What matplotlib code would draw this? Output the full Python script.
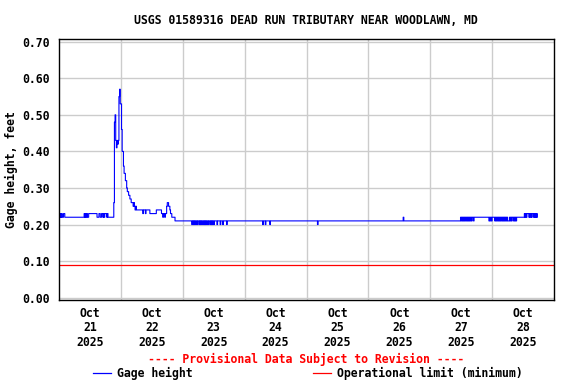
import numpy as np
import pandas as pd
import matplotlib
matplotlib.use("Agg")
import matplotlib.pyplot as plt
from matplotlib.lines import Line2D

plt.rcParams["font.family"] = ["DejaVu Sans Mono"]
plt.rcParams["font.weight"] = "bold"
plt.rcParams["axes.labelweight"] = "bold"
FS = 8.3

title = "USGS 01589316 DEAD RUN TRIBUTARY NEAR WOODLAWN, MD"
start = pd.Timestamp("2025-10-21 00:00")
day_labels = ["Oct\n21\n2025", "Oct\n22\n2025", "Oct\n23\n2025", "Oct\n24\n2025",
              "Oct\n25\n2025", "Oct\n26\n2025", "Oct\n27\n2025", "Oct\n28\n2025"]

# gage height change points (hours after Oct 21 00:00, feet)
step_hours = [0.0, 0.4, 0.6, 0.9, 1.1, 1.6, 2.2,
              9.75, 10.0, 10.25, 10.5, 10.75, 11.0, 11.5,
              14.75, 15.5, 16.0, 16.5, 17.0, 17.25, 17.5, 17.75, 18.5, 18.75, 19.0,
              21.25, 21.5, 21.75, 22.0, 22.25, 22.5, 22.75, 23.0, 23.25, 23.5, 23.75,
              24.25, 24.5, 25.0, 25.25, 25.75, 26.25, 26.5, 27.0, 27.5, 28.0, 28.75,
              29.0, 29.25, 29.5, 29.75, 30.0, 32.5, 32.75, 33.5, 33.75, 35.25, 37.75,
              39.75, 40.25, 40.5, 41.0, 41.25, 41.75, 42.0, 42.5, 43.0, 43.25, 43.75,
              45.0, 155.75]
step_gage = [0.22, 0.23, 0.22, 0.23, 0.22, 0.23, 0.22,
             0.23, 0.22, 0.23, 0.22, 0.23, 0.22, 0.23,
             0.22, 0.23, 0.22, 0.23, 0.22, 0.23, 0.22, 0.23, 0.22, 0.23, 0.22,
             0.26, 0.48, 0.50, 0.43, 0.41, 0.43, 0.42, 0.43, 0.55, 0.57, 0.53,
             0.46, 0.40, 0.36, 0.34, 0.32, 0.30, 0.29, 0.28, 0.27, 0.26, 0.25,
             0.26, 0.25, 0.24, 0.25, 0.24, 0.23, 0.24, 0.23, 0.24, 0.23, 0.24,
             0.23, 0.22, 0.23, 0.22, 0.23, 0.25, 0.26, 0.25, 0.24, 0.23, 0.22,
             0.21, 0.22]

# single 15-minute readings that differ from the surrounding level
blip_hours = [51.5, 52.0, 52.5, 53.0, 53.5, 54.25, 54.75, 55.25, 55.75, 56.25,
              56.75, 57.25, 57.75, 58.5, 59.0, 59.5, 60.0, 61.25, 62.5, 63.5,
              65.0, 79.0, 80.0, 81.75, 100.25, 133.5, 160.0, 160.75]
blip_gage = [0.20] * 25 + [0.22, 0.21, 0.21]

# stretches where the reading flips between two levels (15-minute samples)
band1_start = 155.75
band1 = [0.22, 0.21, 0.22, 0.21, 0.22, 0.21, 0.22, 0.21,
         0.22, 0.21, 0.22, 0.21, 0.22, 0.21, 0.22, 0.21]
band2_start = 166.75
band2 = [0.21, 0.22, 0.21, 0.22, 0.21, 0.22, 0.22, 0.22, 0.22,
         0.21, 0.22, 0.21, 0.22, 0.21, 0.22, 0.21, 0.22, 0.21, 0.22,
         0.21, 0.22, 0.21, 0.22, 0.21, 0.22, 0.21, 0.22, 0.21, 0.22,
         0.21, 0.21, 0.21, 0.22, 0.21, 0.22, 0.21, 0.22, 0.22,
         0.21, 0.22, 0.21, 0.22, 0.21]
band3_start = 180.5
band3 = [0.23, 0.22, 0.23, 0.22, 0.23, 0.23, 0.23, 0.22, 0.23, 0.22,
         0.23, 0.22, 0.23, 0.23, 0.22, 0.23, 0.22, 0.23, 0.22, 0.23]
end_hour = 185.5

op_limit = 0.09

# 15-minute record
hrs = np.arange(0, end_hour + 0.01, 0.25)
idx = np.searchsorted(step_hours, hrs + 1e-6, side="right") - 1
gage = np.array(step_gage)[idx]
for h, v in zip(blip_hours, blip_gage):
    gage[np.isclose(hrs, h)] = v
for s, b in [(band1_start, band1), (band2_start, band2), (band3_start, band3)]:
    i0 = int(round(s / 0.25))
    gage[i0:i0 + len(b)] = b
times = start + pd.to_timedelta(hrs, unit="h")

fig = plt.figure(figsize=(5.76, 3.84), dpi=100)
ax = fig.add_axes([59 / 576, 1 - 300 / 384, (554 - 59) / 576, (300 - 39) / 384])

ax.plot(times, gage, color="blue", lw=0.8, drawstyle="steps-post")
ax.axhline(op_limit, color="red", lw=0.9)

ax.set_xlim(start, start + pd.Timedelta(days=8))
ax.set_ylim(-0.0063, 0.7074)
ax.set_yticks(np.arange(0, 0.71, 0.1))
ax.set_yticklabels(["%.2f" % v for v in np.arange(0, 0.71, 0.1)], fontsize=FS)

noons = [start + pd.Timedelta(hours=12 + 24 * i) for i in range(8)]
mids = [start + pd.Timedelta(days=i) for i in range(1, 8)]
ax.set_xticks(noons)
ax.set_xticklabels(day_labels, fontsize=FS, linespacing=1.15)
ax.set_xticks(mids, minor=True)
ax.tick_params(axis="both", which="both", length=0)
ax.tick_params(axis="x", pad=5)
ax.tick_params(axis="y", pad=7)
ax.grid(False)
ax.grid(True, which="minor", axis="x", color="#cccccc", lw=1.0)
ax.grid(True, which="major", axis="y", color="#cccccc", lw=1.0)
ax.set_axisbelow(True)
for sp in ax.spines.values():
    sp.set_linewidth(1.0)

ax.set_ylabel("Gage height, feet", fontsize=FS)
ax.yaxis.set_label_coords((18 - 59) / 495, 0.5)
fig.text(306 / 576, 1 - 20 / 384, title, ha="center", va="center", fontsize=FS)
fig.text(306 / 576, 1 - 359 / 384, "---- Provisional Data Subject to Revision ----",
         ha="center", va="center", fontsize=FS, color="red")

ly = 1 - 373 / 384
fig.add_artist(Line2D([93 / 576, 111 / 576], [ly, ly], color="blue", lw=0.9))
fig.text(117 / 576, ly, "Gage height", ha="left", va="center", fontsize=FS)
fig.add_artist(Line2D([313 / 576, 331 / 576], [ly, ly], color="red", lw=0.9))
fig.text(337 / 576, ly, "Operational limit (minimum)", ha="left", va="center", fontsize=FS)

fig.savefig("out.png", dpi=100)
